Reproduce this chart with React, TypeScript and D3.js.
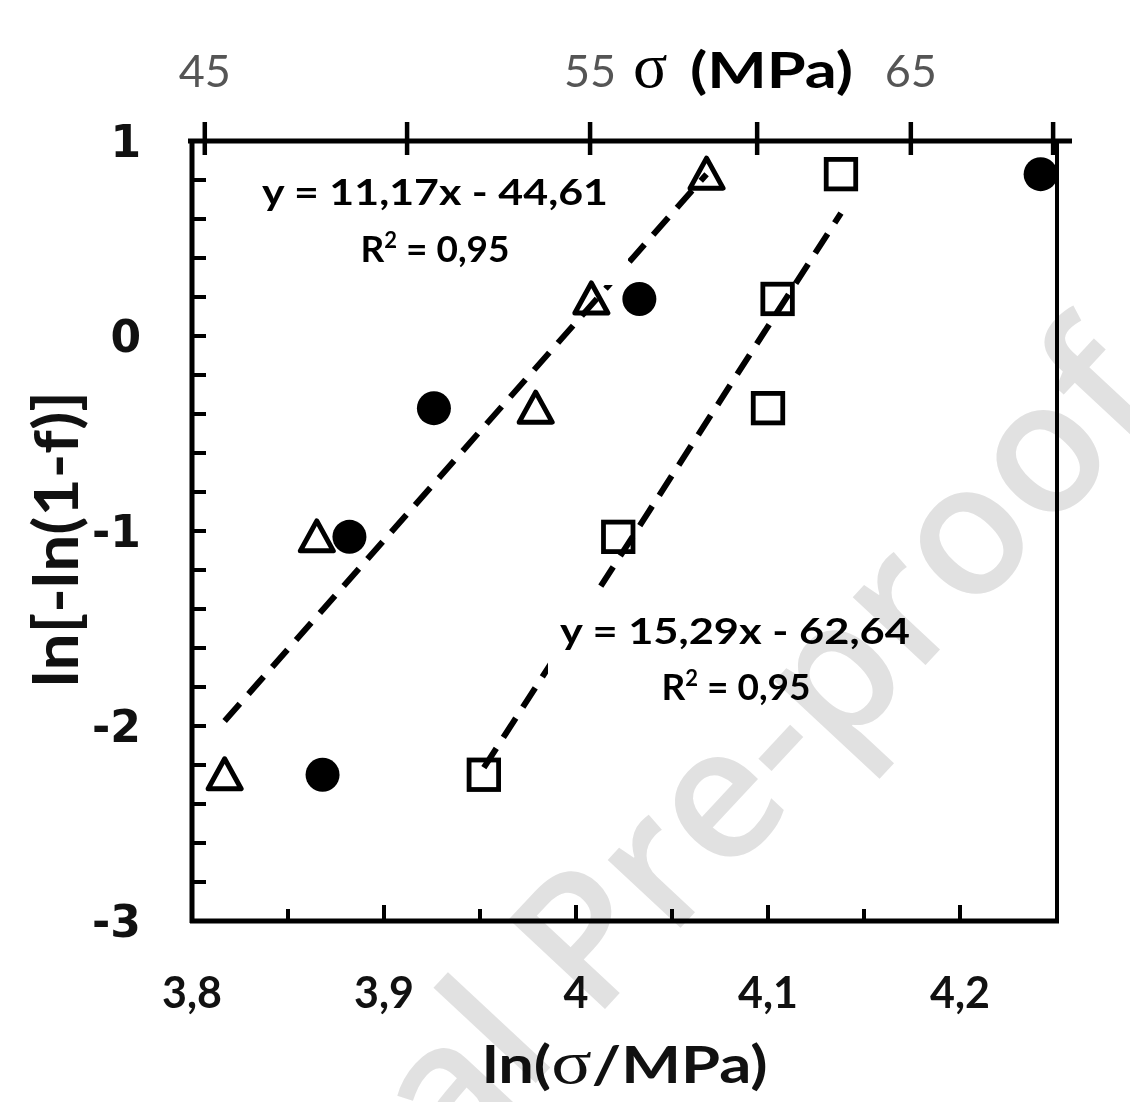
import React from 'react';
import * as d3 from 'd3';

const W = 1130;
const H = 1102;

// Data (x = ln(sigma/MPa), y = ln[-ln(1-f)])
const yValues = [-2.25, -1.03, -0.37, 0.19, 0.83];
const circleX = [3.868, 3.882, 3.926, 4.033, 4.242];
const triangleX = [3.817, 3.865, 3.979, 4.008, 4.068];
const squareX = [3.952, 4.022, 4.100, 4.105, 4.138];

const fitTriangle = [11.17, -44.61];
const fitSquare = [15.29, -62.64];
const eqTriangle = ['y = 11,17x - 44,61', '0,95'];
const eqSquare = ['y = 15,29x - 62,64', '0,95'];

const xMajor = [3.8, 3.9, 4.0, 4.1, 4.2];
const xMajorLabels = ['3,8', '3,9', '4', '4,1', '4,2'];
const xMinor = [3.85, 3.95, 4.05, 4.15];
const yMajor = [1, 0, -1, -2, -3];
const yMinorCount = 20; // every 0.2
const sigmaTicks = [45, 50, 55, 60, 65, 70];
const sigmaLabels = [45, 55, 65];

const SANS = 'Lato, "Open Sans", sans-serif';

export default function App() {
  const x = d3.scaleLinear().domain([3.8, 4.25]).range([192, 1056]);
  const y = d3.scaleLinear().domain([-3, 1]).range([921, 141]);

  const yTicks = d3.range(1, yMinorCount).map((i) => -3 + i * 0.2);

  const line = d3
    .line<[number, number]>()
    .x((d) => x(d[0]))
    .y((d) => y(d[1]));

  const fitPts = (xs: number[], fit: number[]): [number, number][] => {
    const [a, b] = d3.extent(xs) as [number, number];
    return [
      [a, fit[0] * a + fit[1]],
      [b, fit[0] * b + fit[1]],
    ];
  };

  const tri = (cx: number, cy: number) =>
    `M${cx},${cy - 16}L${cx + 16.5},${cy + 14}L${cx - 16.5},${cy + 14}Z`;

  return (
    <svg
      width={W}
      height={H}
      style={{ position: 'absolute', left: 0, top: 0, background: '#fff' }}
    >
      <rect x={0} y={0} width={W} height={H} fill="#fff" />

      {/* trendlines */}
      <path
        d={line(fitPts(triangleX, fitTriangle)) || ''}
        stroke="#000"
        strokeWidth={6}
        strokeDasharray="23 13"
        fill="none"
      />
      <path
        d={line(fitPts(squareX, fitSquare)) || ''}
        stroke="#000"
        strokeWidth={6}
        strokeDasharray="23 13"
        fill="none"
      />

      {/* equation boxes */}
      <rect x={245} y={160} width={383} height={125} fill="#fff" />
      <rect x={548} y={590} width={377} height={122} fill="#fff" />
      <g fontFamily={SANS} fontWeight={700} fontSize={37} fill="#000" textAnchor="middle">
        <text x={435} y={205} textLength={346} lengthAdjust="spacingAndGlyphs">
          {eqTriangle[0]}
        </text>
        <text x={435} y={262}>
          R<tspan fontSize={22} dy={-14}>2</tspan>
          <tspan dy={14}> = {eqTriangle[1]}</tspan>
        </text>
        <text x={735} y={644} textLength={350} lengthAdjust="spacingAndGlyphs">
          {eqSquare[0]}
        </text>
        <text x={736} y={700}>
          R<tspan fontSize={22} dy={-14}>2</tspan>
          <tspan dy={14}> = {eqSquare[1]}</tspan>
        </text>
      </g>

      {/* markers */}
      {circleX.map((v, i) => (
        <circle key={'c' + i} cx={x(v)} cy={y(yValues[i])} r={17} fill="#000" />
      ))}
      {triangleX.map((v, i) => (
        <path
          key={'t' + i}
          d={tri(x(v), y(yValues[i]))}
          fill="none"
          stroke="#000"
          strokeWidth={5}
          strokeLinejoin="round"
        />
      ))}
      {squareX.map((v, i) => (
        <rect
          key={'s' + i}
          x={x(v) - 14.75}
          y={y(yValues[i]) - 14.75}
          width={29.5}
          height={29.5}
          fill="none"
          stroke="#000"
          strokeWidth={4.8}
        />
      ))}

      {/* frame */}
      <line x1={192} x2={192} y1={139} y2={923} stroke="#000" strokeWidth={5} />
      <line x1={1057} x2={1057} y1={141} y2={923} stroke="#000" strokeWidth={4} />
      <line x1={190} x2={1059} y1={921} y2={921} stroke="#000" strokeWidth={5} />
      <line x1={188} x2={1072} y1={141} y2={141} stroke="#000" strokeWidth={5} />

      {/* bottom ticks */}
      {xMajor.map((v) => (
        <line key={'xm' + v} x1={x(v)} x2={x(v)} y1={921} y2={905} stroke="#000" strokeWidth={4} />
      ))}
      {xMinor.map((v) => (
        <line key={'xn' + v} x1={x(v)} x2={x(v)} y1={921} y2={909} stroke="#000" strokeWidth={4} />
      ))}
      {/* left ticks */}
      {yTicks.map((v, i) => (
        <line key={'yt' + i} x1={192} x2={206} y1={y(v)} y2={y(v)} stroke="#000" strokeWidth={4} />
      ))}
      {/* top (sigma) ticks */}
      {sigmaTicks.map((s) => (
        <line
          key={'st' + s}
          x1={x(Math.log(s))}
          x2={x(Math.log(s))}
          y1={122}
          y2={155}
          stroke="#000"
          strokeWidth={4.5}
        />
      ))}

      {/* bottom labels */}
      <g fontFamily={SANS} fontWeight={700} fontSize={43} fill="#111" textAnchor="middle">
        {xMajor.map((v, i) => (
          <text key={'xl' + v} x={x(v)} y={1008}>
            {xMajorLabels[i]}
          </text>
        ))}
      </g>
      {/* left labels */}
      <g fontFamily='"DejaVu Sans", Verdana, sans-serif' fontWeight={700} fontSize={44} fill="#111" textAnchor="end">
        {yMajor.map((v) => (
          <text key={'yl' + v} x={141} y={y(v)} dy="0.36em">
            {v}
          </text>
        ))}
      </g>
      {/* top labels */}
      <g fontFamily={SANS} fontWeight={400} fontSize={45} fill="#555" textAnchor="middle">
        {sigmaLabels.map((s) => (
          <text key={'sl' + s} x={x(Math.log(s))} y={87}>
            {s}
          </text>
        ))}
      </g>
      <text x={633} y={87} fontFamily='"Liberation Serif", serif' fontWeight={400} fontSize={64} fill="#000">
        σ
      </text>
      <text
        x={690}
        y={88}
        fontFamily={SANS}
        fontWeight={700}
        fontSize={50}
        fill="#000"
        textLength={163}
        lengthAdjust="spacingAndGlyphs"
      >
        (MPa)
      </text>

      {/* axis titles */}
      <text
        x={625}
        y={1083}
        fontFamily={SANS}
        fontWeight={700}
        fontSize={52}
        fill="#111"
        textAnchor="middle"
        textLength={285}
        lengthAdjust="spacingAndGlyphs"
      >
        ln(<tspan fontFamily='"Liberation Serif", serif' fontWeight={400} fontSize={62}>σ</tspan>/MPa)
      </text>
      <text
        transform="translate(78,539) rotate(-90)"
        fontFamily={SANS}
        fontWeight={700}
        fontSize={62}
        fill="#111"
        textAnchor="middle"
        textLength={296}
        lengthAdjust="spacingAndGlyphs"
      >
        ln[-ln(1-f)]
      </text>

      {/* watermark */}
      <text
        transform="translate(1168,405) rotate(-47)"
        fontFamily='"Open Sans", "Liberation Sans", Arial, sans-serif'
        fontWeight={600}
        fontSize={184}
        fill="#e1e1e1"
        textAnchor="end"
        style={{ mixBlendMode: 'multiply' }}
      >
        Journal Pre-proof
      </text>
    </svg>
  );
}
